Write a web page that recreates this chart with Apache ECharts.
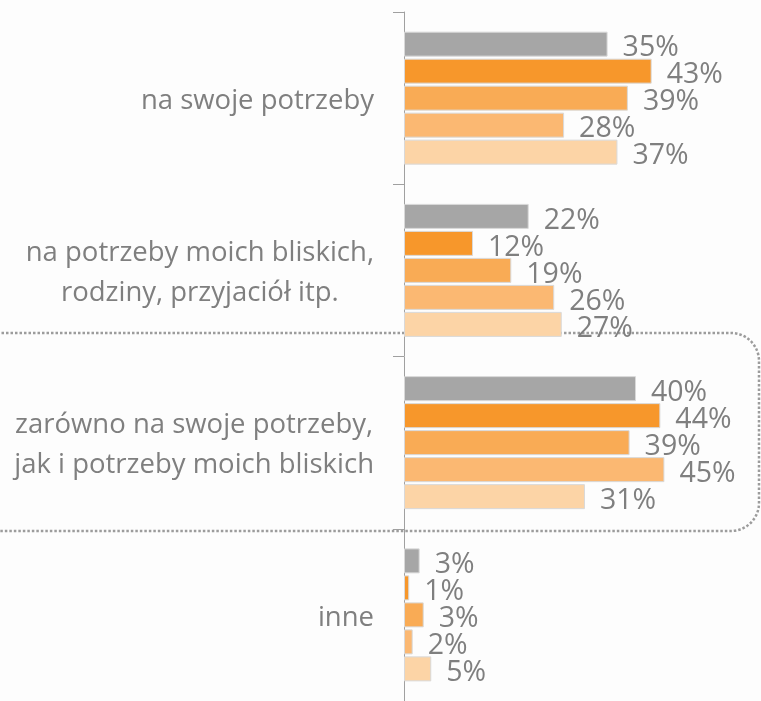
<!DOCTYPE html>
<html>
<head>
<meta charset="utf-8">
<script src="https://cdn.jsdelivr.net/npm/echarts@6/dist/echarts.min.js"></script>
<style>
html,body{margin:0;padding:0;background:#fdfdfd;}
#chart{width:761px;height:701px;}
</style>
</head>
<body>
<div id="chart"></div>
<script>
const categories = [
  'na swoje potrzeby',
  'na potrzeby moich bliskich,\nrodziny, przyjaciół itp.',
  'zarówno na swoje potrzeby,\njak i potrzeby moich bliskich',
  'inne'
];
const seriesNames = ['Seria 1', 'Seria 2', 'Seria 3', 'Seria 4', 'Seria 5'];
const series1 = [35.1, 21.5, 40.0, 2.7];
const series2 = [42.7, 11.9, 44.2, 0.9];
const series3 = [38.6, 18.5, 38.9, 3.4];
const series4 = [27.6, 25.9, 44.9, 1.5];
const series5 = [36.8, 27.2, 31.2, 4.7];
const colors = ['#a6a6a6', '#f7972b', '#f9ab55', '#fbb872', '#fcd4a6'];

const allSeries = [series1, series2, series3, series4, series5];
const chart = echarts.init(document.getElementById('chart'), null, {renderer: 'canvas'});
const textColor = '#7f7f7f';
const font = 'Open Sans';

chart.setOption({
  animation: false,
  backgroundColor: '#fdfdfd',
  grid: {left: 404, right: 9, top: 12, bottom: 0, containLabel: false},
  xAxis: {type: 'value', min: 0, max: 60, show: false},
  yAxis: {
    type: 'category',
    inverse: true,
    data: categories,
    axisLine: {show: true, lineStyle: {color: '#a0a0a0', width: 1}},
    axisTick: {show: true, length: 11, lineStyle: {color: '#a0a0a0', width: 1}},
    axisLabel: {
      margin: 30, fontSize: 27.5, color: textColor, fontFamily: font, lineHeight: 40,
      align: 'right', padding: [6, 0, 0, 0],
      formatter: v => v.split('\n').map(l => '{c|' + l + '}').join('\n'),
      rich: {c: {align: 'center', fontSize: 27.5, fontFamily: font, color: textColor, lineHeight: 40}}
    },
    splitLine: {show: false}
  },
  graphic: [{
    type: 'rect',
    z: 0,
    silent: true,
    shape: {x: -40, y: 333, width: 799, height: 198, r: 28},
    style: {fill: 'none', stroke: '#9c9c9c', lineWidth: 2.5, lineDash: [2.5, 2]}
  }],
  series: allSeries.map((d, i) => ({
    type: 'bar',
    name: seriesNames[i],
    data: d,
    z: 5,
    barWidth: 25,
    barGap: '8%',
    itemStyle: {color: colors[i], borderColor: '#d9d9d9', borderWidth: 1},
    label: {
      show: true,
      position: 'right',
      distance: 15,
      offset: [0, 4],
      fontSize: 28.5,
      fontFamily: font,
      color: textColor,
      formatter: p => Math.round(p.value) + '%'
    }
  }))
});
</script>
</body>
</html>
